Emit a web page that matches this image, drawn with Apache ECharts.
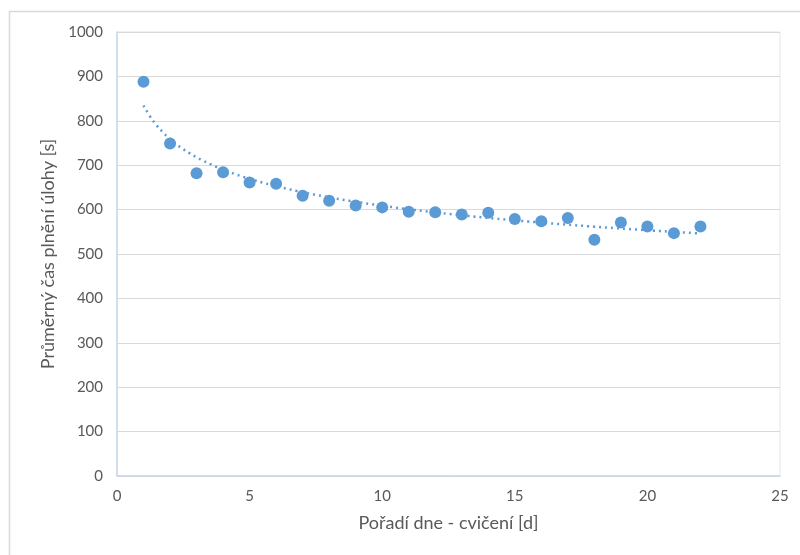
<!DOCTYPE html>
<html>
<head>
<meta charset="utf-8">
<script src="https://cdn.jsdelivr.net/npm/echarts@6/dist/echarts.min.js"></script>
<style>html,body{margin:0;padding:0;background:#fff}#c{width:800px;height:555px}</style>
</head>
<body>
<div id="c"></div>
<script>
const days = [1,2,3,4,5,6,7,8,9,10,11,12,13,14,15,16,17,18,19,20,21,22];
const times = [888,749,682,684,661,658,631,620,609,605,595,594,589,593,579,574,581,532,571,562,547,562];
const xTicks = [0,5,10,15,20,25];
const yTicks = [0,100,200,300,400,500,600,700,800,900,1000];

// power trendline (least squares on ln y vs ln x), as Excel does
const lx = days.map(Math.log), ly = times.map(Math.log);
const n = days.length;
const mx = lx.reduce((a,b)=>a+b,0)/n, my = ly.reduce((a,b)=>a+b,0)/n;
let sxy=0, sxx=0;
for (let i=0;i<n;i++){ sxy += (lx[i]-mx)*(ly[i]-my); sxx += (lx[i]-mx)**2; }
const b = sxy/sxx, a = Math.exp(my - b*mx);
const trend = [];
for (let x=days[0]; x<=days[n-1]+1e-9; x+=0.25) trend.push([x, a*Math.pow(x,b)]);

const font = 'Lato, "Open Sans", sans-serif';
const chart = echarts.init(document.getElementById('c'));
chart.setOption({
  animation:false,
  graphic:[{type:'rect',shape:{x:9.5,y:11.5,width:820,height:600},style:{fill:'none',stroke:'#d9d9d9',lineWidth:1.5},silent:true}],
  grid:{left:117,right:20,top:32,bottom:79,show:true,borderColor:'#dde7f1',borderWidth:1},
  xAxis:{type:'value',min:0,max:25,interval:5,
    name:'Pořadí dne - cvičení [d]',nameLocation:'middle',nameGap:38,
    nameTextStyle:{color:'#595959',fontSize:18,fontFamily:font},
    axisLine:{show:true,lineStyle:{color:'#c9d8ea',width:1.5}},
    axisTick:{show:false},splitLine:{show:false},
    axisLabel:{color:'#595959',fontSize:15,fontFamily:font,margin:13,
      formatter:v=>xTicks.includes(v)?String(v):''}},
  yAxis:{type:'value',min:0,max:1000,interval:100,
    name:'Průměrný čas plnění úlohy [s]',nameLocation:'middle',nameGap:60,
    nameTextStyle:{color:'#595959',fontSize:18,fontFamily:font},
    axisLine:{show:true,lineStyle:{color:'#c9d8ea',width:1.5}},
    axisTick:{show:false},
    splitLine:{show:true,lineStyle:{color:'#d9d9d9',width:1}},
    axisLabel:{color:'#595959',fontSize:15,fontFamily:font,margin:14,
      formatter:v=>yTicks.includes(v)?String(v):''}},
  series:[
    {type:'line',data:trend,showSymbol:false,smooth:true,z:1,
     lineStyle:{color:'#5b9bd5',width:2.5,type:[2,4]}},
    {type:'scatter',data:days.map((d,i)=>[d,times[i]]),symbolSize:12,z:2,
     itemStyle:{color:'#5b9bd5',opacity:1}}
  ]
});
</script>
</body>
</html>
